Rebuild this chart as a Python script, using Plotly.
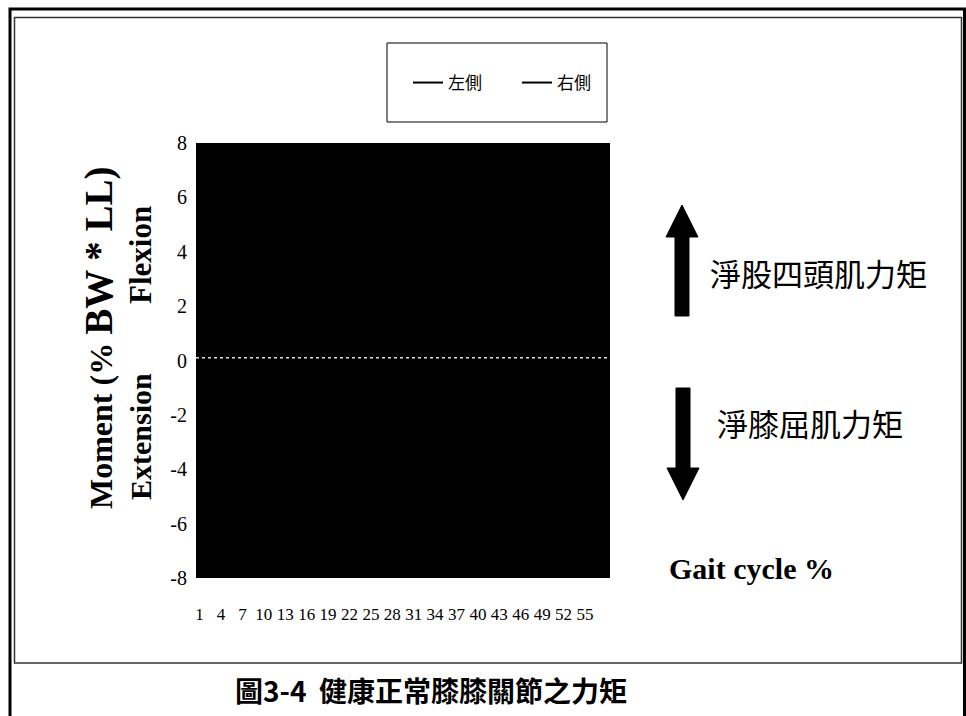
import plotly.graph_objects as go

# ---- data ----
gait_pct = list(range(1, 59))
left_moment = [0.1, 0.1, 0.2, 0.1, 0.1, 0.2, 0.1, 0.1, 0.2, 0.2,
               0.1, 0.1, 0.2, 0.1, 0.2, 0.2, 0.1, 0.1, 0.1, 0.2,
               0.2, 0.1, 0.1, 0.2, 0.1, 0.1, 0.2, 0.2, 0.1, 0.1,
               0.1, 0.2, 0.1, 0.2, 0.2, 0.1, 0.1, 0.2, 0.1, 0.1,
               0.2, 0.2, 0.1, 0.1, 0.2, 0.1, 0.1, 0.2, 0.2, 0.1,
               0.1, 0.2, 0.1, 0.1, 0.2, 0.2, 0.1, 0.1]
right_moment = [0.0, 0.0, 0.1, 0.0, 0.0, 0.0, 0.1, 0.0, 0.0, 0.1,
                0.0, 0.0, 0.0, 0.1, 0.0, 0.0, 0.1, 0.0, 0.0, 0.0,
                1.0, 0.0, 0.1, 0.0, 0.0, 0.0, 0.1, 0.0, 0.0, 0.0,
                0.1, 0.0, 0.0, 0.1, 0.0, 0.0, 0.0, 0.1, 0.0, 0.0,
                0.0, 0.1, 0.0, 0.0, 0.1, 0.0, 0.0, 0.0, 0.1, 0.0,
                0.0, 0.1, 0.0, 0.0, 0.9, 0.0, 0.1, 0.0]
series_names = ["左側", "右側"]
x_tick_vals = list(range(1, 56, 3))
y_tick_vals = [-8, -6, -4, -2, 0, 2, 4, 6, 8]
y_tick_text = ["-8", "-6", "-4", "-2", "0", "2", "4", "6", "8"]

# ---- layout geometry (page pixels) ----
W, H = 966, 716
PL, PR, PT, PB = 196, 610, 143, 578


def xp(px):
    return (px - PL) / (PR - PL)


def yp(py):
    return (PB - py) / (PB - PT)


def path(points):
    return "M " + " L ".join(f"{xp(a):.5f},{yp(b):.5f}" for a, b in points) + " Z"


SERIF = "Liberation Serif, Times New Roman, serif"
CJK = "Noto Sans CJK TC, Noto Sans CJK SC, sans-serif"

fig = go.Figure()
for name, vals in zip(series_names, [left_moment, right_moment]):
    fig.add_trace(go.Scatter(x=gait_pct, y=vals, mode="lines", name=name,
                             line=dict(color="black", width=2)))

shapes = [
    # outer frame
    dict(type="rect", xref="paper", yref="paper", x0=xp(10), x1=xp(964.5), y0=yp(740), y1=yp(9),
         line=dict(color="black", width=3), layer="below"),
    # inner chart frame
    dict(type="rect", xref="paper", yref="paper", x0=xp(14.5), x1=xp(961.5), y0=yp(663), y1=yp(17.5),
         line=dict(color="#333333", width=1.5), layer="below"),
    # legend box
    dict(type="rect", xref="paper", yref="paper", x0=xp(387), x1=xp(607), y0=yp(122), y1=yp(43),
         line=dict(color="black", width=1), layer="below"),
    # zero reference line
    dict(type="line", xref="paper", yref="y", x0=0, x1=1, y0=0.1, y1=0.1,
         line=dict(color="#dddddd", width=1.5, dash="dot"), layer="above"),
    # up arrow
    dict(type="path", xref="paper", yref="paper", fillcolor="black", line=dict(color="black", width=1),
         path=path([(682, 205), (698, 237), (689, 237), (689, 316), (675, 316), (675, 237), (666, 237)])),
    # down arrow
    dict(type="path", xref="paper", yref="paper", fillcolor="black", line=dict(color="black", width=1),
         path=path([(676, 388), (690, 388), (690, 468), (699, 468), (683, 500), (667, 468), (676, 468)])),
]

annotations = [
    dict(text="<b>Moment (% <span style='font-size:39px'>BW * LL)</span></b>", x=xp(99), y=yp(338),
         textangle=-90, font=dict(family=SERIF, size=32, color="black")),
    dict(text="<b>Flexion</b>", x=xp(140), y=yp(255), textangle=-90,
         font=dict(family=SERIF, size=31, color="black")),
    dict(text="<b>Extension</b>", x=xp(140), y=yp(437), textangle=-90,
         font=dict(family=SERIF, size=30, color="black")),
    dict(text="淨股四頭肌力矩", x=xp(708), y=yp(272), xanchor="left",
         font=dict(family=CJK, size=31, color="black")),
    dict(text="淨膝屈肌力矩", x=xp(715), y=yp(422), xanchor="left",
         font=dict(family=CJK, size=31, color="black")),
    dict(text="<b>Gait cycle %</b>", x=xp(667), y=yp(568), xanchor="left",
         font=dict(family=SERIF, size=30, color="black")),
    dict(text="<b>圖3-4  健康正常膝膝關節之力矩</b>", x=xp(431), y=yp(690),
         font=dict(family=CJK, size=28, color="black")),
]
for a in annotations:
    a.update(xref="paper", yref="paper", showarrow=False,
             yanchor="middle", xanchor=a.get("xanchor", "center"))

fig.update_layout(
    width=W, height=H,
    margin=dict(l=PL, r=W - PR, t=PT, b=H - PB, pad=0),
    paper_bgcolor="white",
    plot_bgcolor="black",
    showlegend=True,
    legend=dict(orientation="h", x=xp(408), y=yp(83), xanchor="left", yanchor="middle",
                bgcolor="rgba(0,0,0,0)", borderwidth=0,
                entrywidth=64, entrywidthmode="pixels", itemwidth=30,
                font=dict(family=CJK, size=17, color="black")),
    xaxis=dict(range=[0.5, 58.5], tickmode="array", tickvals=x_tick_vals,
               ticktext=[str(v) for v in x_tick_vals],
               showgrid=False, zeroline=False, showline=False,
               ticks="", ticklabelstandoff=24,
               tickfont=dict(family=SERIF, size=17, color="black")),
    yaxis=dict(range=[-8, 8], tickmode="array", tickvals=y_tick_vals, ticktext=y_tick_text,
               showgrid=False, zeroline=False, showline=False,
               ticks="", ticklabelstandoff=8,
               tickfont=dict(family=SERIF, size=20, color="black")),
    shapes=shapes,
    annotations=annotations,
)

fig.write_html("out.html",
               config={"displayModeBar": False},
               post_script="document.body.style.margin='0';document.body.style.overflow='hidden';")
